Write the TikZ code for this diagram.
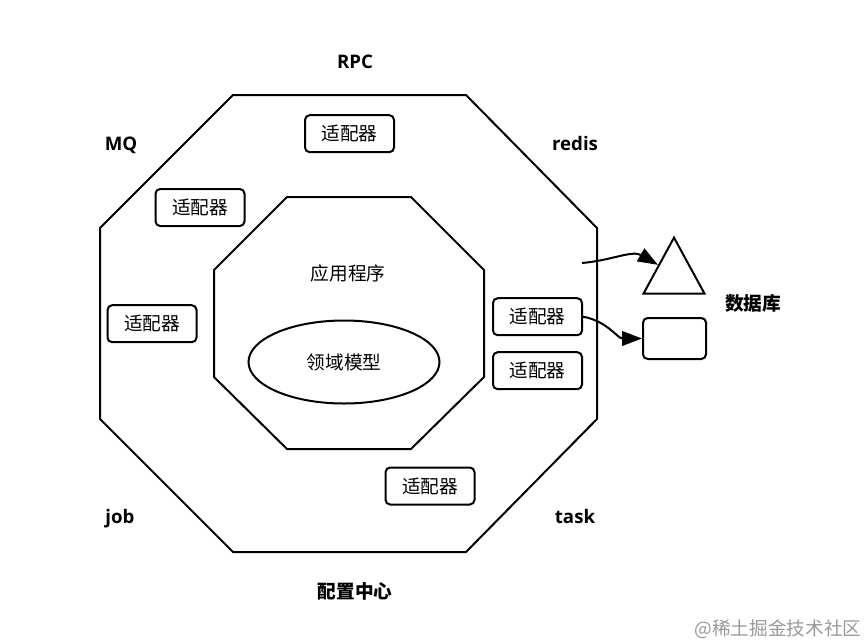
\documentclass[tikz,border=0pt]{standalone}
\usepackage{fontspec}
\setmainfont{Noto Sans CJK SC}
\newfontfamily\latinfont{Open Sans}
\usepackage{tikz}
\usetikzlibrary{shapes.geometric, arrows.meta, positioning}
\tikzstyle{adapter} = [rectangle, rounded corners=3.5pt,
    minimum width=66.75pt, minimum height=27.75pt,
    text centered, draw=black, line width=1.5pt, inner sep=2pt]
\tikzstyle{octa}    = [draw=black, line width=1.5pt]
\tikzstyle{side}    = [font=\latinfont\bfseries\fontsize{14}{17}\selectfont, anchor=base]
\tikzstyle{cnside}  = [font=\bfseries\fontsize{14}{17}\selectfont]
\tikzstyle{arrow}   = [-{Triangle[length=15pt,width=11pt]}, line width=1.5pt]

\begin{document}
\begin{tikzpicture}[x=0.75pt, y=-0.75pt, node distance=11.25pt,
    every node/.style={font=\fontsize{14}{17}\selectfont}]
  \useasboundingbox (0,0) rectangle (866,643);

  % Octagons
  \draw[octa] (233,95) -- (466,95) -- (597,228) -- (597,419) -- (466,552)
    -- (233,552) -- (100,419) -- (100,228) -- cycle;
  \draw[octa] (287,197) -- (411,197) -- (484,270) -- (484,377) -- (411,449)
    -- (287,449) -- (214,377) -- (214,270) -- cycle;

  % Core
  \node (app) at (348,273) {应用程序};
  \node[ellipse, draw=black, line width=1.5pt, minimum width=143.25pt,
    minimum height=62.25pt] (domain) at (344,362) {领域模型};

  % Adapters
  \node[adapter] (adRPC)   at (349.5,133.7) {适配器};
  \node[adapter] (adMQ)    at (200,207.5)   {适配器};
  \node[adapter] (adLeft)  at (152,323.7)   {适配器};
  \node[adapter] (adDB)    at (537.5,316.7) {适配器};
  \node[adapter, below=of adDB] (adCache) {适配器};
  \node[adapter] (adTask)  at (430,486)     {适配器};

  % Outer labels
  \node[side] (rpc)   at (355,68)  {RPC};
  \node[side] (mq)    at (121,150) {MQ};
  \node[side] (redis) at (575,150) {redis};
  \node[side] (job)   at (120,523) {job};
  \node[side] (task)  at (575,523) {task};
  \node[cnside] (conf) at (355,591) {配置中心};

  % Storage
  \node[isosceles triangle, shape border rotate=90, isosceles triangle stretches,
    draw=black, line width=1.5pt, inner sep=0pt, minimum width=45.75pt,
    minimum height=42pt, anchor=apex] (tri) at (674,235) {};
  \node[draw=black, rounded corners=3.5pt, line width=1.5pt, minimum width=47.25pt,
    minimum height=30.75pt] (store) at (674.5,338.5) {};
  \node[cnside] (dbname) at (753,303) {数据库};

  % Connectors
  \coordinate (src) at (582,263);
  \draw[arrow] (src) to[out=5, in=150] (tri.left side);
  \draw[arrow] (adDB.east) to[out=-10, in=180] (store.west);

  \node[text=black!40] (mark) at (778,629) {@稀土掘金技术社区};
\end{tikzpicture}
\end{document}
